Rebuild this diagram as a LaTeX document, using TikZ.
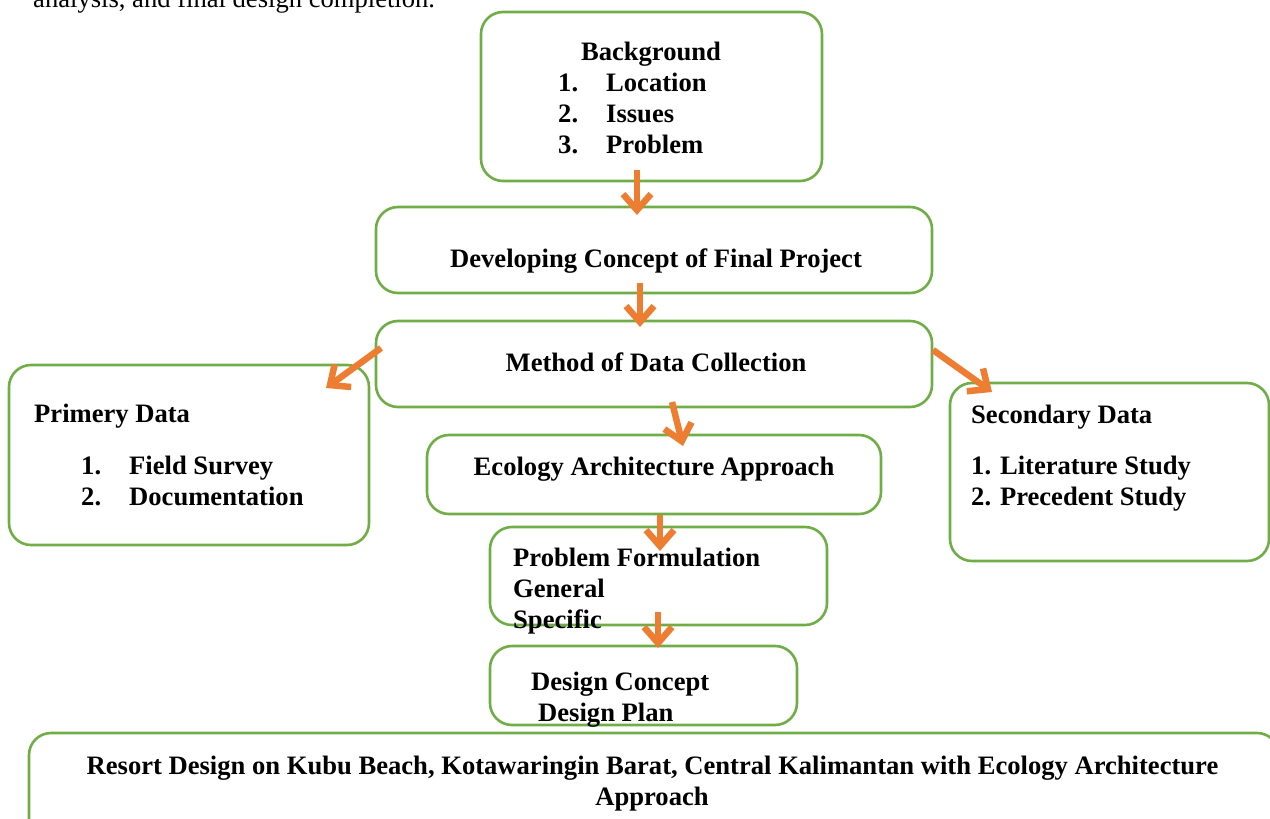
\documentclass[tikz,border=0pt]{standalone}
\usepackage{fontspec}
\setmainfont{Liberation Serif}
\usetikzlibrary{arrows.meta}
\definecolor{boxgreen}{HTML}{70AD47}
\definecolor{arrorange}{HTML}{ED7D31}
\begin{document}
\begin{tikzpicture}[x=1pt,y=-1pt,
  box/.style={draw=boxgreen, line width=2.6pt, rounded corners=22pt, inner sep=0pt},
  lbl/.style={anchor=base west, inner sep=0pt, font=\fontsize{26.6}{31}\selectfont\bfseries},
  clbl/.style={anchor=base, inner sep=0pt, font=\fontsize{26.6}{31}\selectfont\bfseries},
  flow/.style={draw=arrorange, line width=6.5pt, -{Straight Barb[length=16pt,width=28pt]}}]
\useasboundingbox (0,0) rectangle (1270,819);
\clip (0,0) rectangle (1270,819);
\node[anchor=base west, inner sep=0pt, font=\fontsize{26.6}{31}\selectfont] (cut) at (33,7) {analysis, and final design completion.};
% boxes
\node[box, minimum width=341pt, minimum height=169pt] (bg) at (651.5,96.5) {};
\node[box, minimum width=556pt, minimum height=86pt] (dev) at (654,250) {};
\node[box, minimum width=556pt, minimum height=86pt] (meth) at (654,364) {};
\node[box, minimum width=360pt, minimum height=180pt] (prim) at (189,455) {};
\node[box, minimum width=319pt, minimum height=178pt] (sec) at (1109.5,472) {};
\node[box, minimum width=454pt, minimum height=79pt] (eco) at (654,474.5) {};
\node[box, minimum width=337pt, minimum height=98pt] (pf) at (658.5,576) {};
\node[box, minimum width=307pt, minimum height=79pt] (dc) at (643.5,685.5) {};
\node[box, minimum width=1250pt, minimum height=110pt] (res) at (654,788) {};
% texts
\node[clbl] (t1) at (651,60) {Background};
\node[lbl] (n1) at (558,91) {1.}; \node[lbl] (t2) at (606,91) {Location};
\node[lbl] (n2) at (558,122) {2.}; \node[lbl] (t3) at (606,122) {Issues};
\node[lbl] (n3) at (558,153) {3.}; \node[lbl] (t4) at (606,153) {Problem};
\node[clbl] (t5) at (656,267) {Developing Concept of Final Project};
\node[clbl] (t6) at (656,371) {Method of Data Collection};
\node[lbl] (t7) at (34,422) {Primery Data};
\node[lbl] (n4) at (81,474) {1.}; \node[lbl] (t8) at (129,474) {Field Survey};
\node[lbl] (n5) at (81,505) {2.}; \node[lbl] (t9) at (129,505) {Documentation};
\node[lbl] (t10) at (971,423) {Secondary Data};
\node[lbl] (t11) at (971,474) {1. Literature Study};
\node[lbl] (t12) at (971,505) {2. Precedent Study};
\node[clbl] (t13) at (654,475) {Ecology Architecture Approach};
\node[lbl] (t14) at (513,566) {Problem Formulation};
\node[lbl] (t15) at (513,597) {General};
\node[lbl] (t16) at (513,628) {Specific};
\node[lbl] (t17) at (531,690) {Design Concept};
\node[lbl] (t18) at (538,721) {Design Plan};
\node[clbl] (t19) at (652.5,774) {Resort Design on Kubu Beach, Kotawaringin Barat, Central Kalimantan with Ecology Architecture};
\node[clbl] (t20) at (652,805) {Approach};
% arrow end points
\coordinate (a1s) at (637,170); \coordinate (a1e) at (637,215);
\coordinate (a2s) at (640,283); \coordinate (a2e) at (640,327);
\coordinate (a3s) at (381,348); \coordinate (a3e) at (326,388);
\coordinate (a4s) at (933,350); \coordinate (a4e) at (992,392);
\coordinate (a5s) at (672,402); \coordinate (a5e) at (683,446);
\coordinate (a6s) at (660,515); \coordinate (a6e) at (660,551);
\coordinate (a7s) at (658,612); \coordinate (a7e) at (658,648);
\draw[flow] (a1s) -- (a1e);
\draw[flow] (a2s) -- (a2e);
\draw[flow] (a3s) -- (a3e);
\draw[flow] (a4s) -- (a4e);
\draw[flow] (a5s) -- (a5e);
\draw[flow] (a6s) -- (a6e);
\draw[flow] (a7s) -- (a7e);
\end{tikzpicture}
\end{document}
